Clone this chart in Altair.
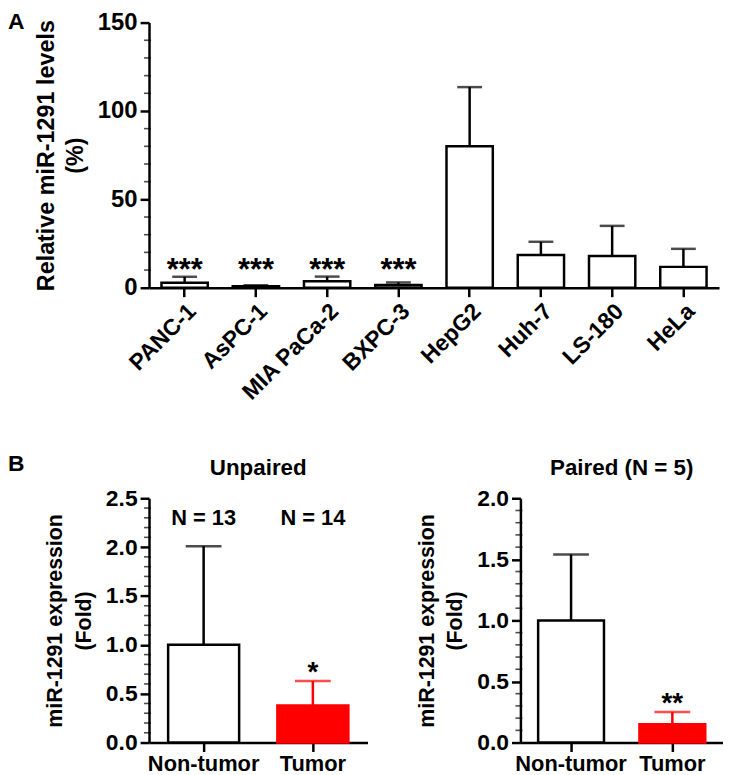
import altair as alt
import pandas as pd

FONT = "Liberation Sans"

# ---------------- Panel A data ----------------
cell_lines = ["PANC-1", "AsPC-1", "MIA PaCa-2", "BXPC-3", "HepG2", "Huh-7", "LS-180", "HeLa"]
cell_mean = [2.8, 0.8, 3.7, 1.5, 80.0, 18.5, 18.0, 11.8]
cell_upper = [6.2, 1.4, 6.3, 3.0, 113.5, 26.0, 35.0, 22.0]
cell_sig = ["***", "***", "***", "***", "", "", "", ""]
a_major = [0, 50, 100, 150]
a_minor = [10, 20, 30, 40, 60, 70, 80, 90, 110, 120, 130, 140]

# ---------------- Panel B data ----------------
groups = ["Non-tumor", "Tumor"]
unpaired_mean = [1.0, 0.38]
unpaired_upper = [2.01, 0.63]
unpaired_n = ["N = 13", "N = 14"]
unpaired_sig = ["", "*"]
paired_mean = [1.0, 0.15]
paired_upper = [1.54, 0.25]
paired_sig = ["", "**"]
b1_major = [0.0, 0.5, 1.0, 1.5, 2.0, 2.5]
b1_minor = [0.1, 0.2, 0.3, 0.4, 0.6, 0.7, 0.8, 0.9, 1.1, 1.2, 1.3, 1.4,
            1.6, 1.7, 1.8, 1.9, 2.1, 2.2, 2.3, 2.4]
b2_major = [0.0, 0.5, 1.0, 1.5, 2.0]
b2_minor = [0.1, 0.2, 0.3, 0.4, 0.6, 0.7, 0.8, 0.9, 1.1, 1.2, 1.3, 1.4,
            1.6, 1.7, 1.8, 1.9]

RED = "#ff0000"

df_a = pd.DataFrame({"cell": cell_lines, "mean": cell_mean, "upper": cell_upper, "sig": cell_sig})
df_b1 = pd.DataFrame({"group": groups, "mean": unpaired_mean, "upper": unpaired_upper,
                      "n": unpaired_n, "sig": unpaired_sig})
df_b2 = pd.DataFrame({"group": groups, "mean": paired_mean, "upper": paired_upper, "sig": paired_sig})


def major_axis(values, title, label_size, title_size, fmt=None):
    kw = dict(values=values, tickSize=9, tickWidth=2.5, labelFontSize=label_size,
              titleFontSize=title_size, title=title, titlePadding=10, titleLineHeight=29,
              labelPadding=3, labelOverlap=False, orient="left")
    if fmt:
        kw["format"] = fmt
    return alt.Axis(**kw)


def minor_ticks(values):
    # small axis ticks between the labelled ones, positioned through the y scale
    return alt.Chart(pd.DataFrame({"v": values})).mark_tick(
        color="black", orient="horizontal", size=7, thickness=1.6).encode(
        x=alt.value(-1.5), y=alt.Y("v:Q", axis=None))


# ---------------- Panel A ----------------
xa = alt.X("cell:N", sort=cell_lines, title=None,
           scale=alt.Scale(paddingInner=0.35, paddingOuter=0.175),
           axis=alt.Axis(labelAngle=-45, labelFontSize=23, tickSize=9, tickWidth=2.5, labelPadding=3))
xa_plain = alt.X("cell:N", sort=cell_lines)
ya_scale = alt.Scale(domain=[0, 150], nice=False)
base_a = alt.Chart(df_a)
bars_a = base_a.mark_bar(fill="white", stroke="black", strokeWidth=2.5).encode(
    x=xa,
    y=alt.Y("mean:Q", scale=ya_scale,
            axis=major_axis(a_major, ["Relative miR-1291 levels", "(%)"], 24, 23.5)),
)
err_a = base_a.mark_rule(color="black", strokeWidth=2.5).encode(
    x=xa_plain, y=alt.Y("mean:Q", axis=None), y2="upper:Q")
cap_a = base_a.mark_tick(color="black", thickness=2.5, size=25).encode(
    x=xa_plain, y=alt.Y("upper:Q", axis=None))
star_a = base_a.mark_text(font=FONT, fontWeight="bold", fontSize=31, baseline="alphabetic", dy=-8).encode(
    x=xa_plain, y=alt.YDatum(0, axis=None), text="sig:N")
letter_a = alt.Chart(pd.DataFrame({"t": ["A"]})).mark_text(
    font=FONT, fontWeight="bold", fontSize=23, align="left", baseline="top").encode(
    x=alt.value(-142), y=alt.value(-12), text="t:N")

panel_a = alt.layer(bars_a, err_a, cap_a, star_a, minor_ticks(a_minor), letter_a).resolve_axis(
    y="independent").properties(width=574, height=267)


# ---------------- Panel B ----------------
def panel_b(df, ymax, major, minor, title, width, height, with_letter=False, with_n=False):
    xb = alt.X("group:N", sort=groups, title=None,
               scale=alt.Scale(paddingInner=0.35, paddingOuter=0.175),
               axis=alt.Axis(labelAngle=0, labelFontSize=22, tickSize=9, tickWidth=2.5, labelPadding=2))
    xp = alt.X("group:N", sort=groups)
    ysc = alt.Scale(domain=[0, ymax], nice=False)
    base = alt.Chart(df)
    fill = alt.Fill("group:N", scale=alt.Scale(domain=groups, range=["white", RED]), legend=None)
    stroke = alt.Stroke("group:N", scale=alt.Scale(domain=groups, range=["black", RED]), legend=None)
    col = alt.Color("group:N", scale=alt.Scale(domain=groups, range=["black", RED]), legend=None)
    bars = base.mark_bar(strokeWidth=2.5).encode(
        x=xb,
        y=alt.Y("mean:Q", scale=ysc,
                axis=major_axis(major, ["miR-1291 expression", "(Fold)"], 23, 21.5, fmt=".1f")),
        fill=fill, stroke=stroke)
    err = base.mark_rule(strokeWidth=2.5).encode(
        x=xp, y=alt.Y("mean:Q", axis=None), y2="upper:Q", color=col)
    cap = base.mark_tick(thickness=2.5, size=36).encode(
        x=xp, y=alt.Y("upper:Q", axis=None), color=col)
    star = base.mark_text(font=FONT, fontWeight="bold", fontSize=28, baseline="alphabetic").encode(
        x=xp, y=alt.Y("upper:Q", axis=None), text="sig:N")
    ttl = alt.Chart(pd.DataFrame({"t": [title]})).mark_text(
        font=FONT, fontWeight="bold", fontSize=22.5, baseline="middle").encode(
        x=alt.value(width / 2), y=alt.value(-30), text="t:N")
    layers = [bars, err, cap, star, minor_ticks(minor), ttl]
    if with_n:
        layers.append(base.mark_text(font=FONT, fontWeight="bold", fontSize=22, baseline="middle").encode(
            x=xp, y=alt.YDatum(2.3, axis=None), text="n:N"))
    if with_letter:
        layers.append(alt.Chart(pd.DataFrame({"t": ["B"]})).mark_text(
            font=FONT, fontWeight="bold", fontSize=23, align="left", baseline="middle").encode(
            x=alt.value(-142), y=alt.value(-34), text="t:N"))
    return alt.layer(*layers).resolve_axis(y="independent").properties(width=width, height=height)


b1 = panel_b(df_b1, 2.5, b1_major, b1_minor, "Unpaired", 220, 246, with_letter=True, with_n=True)
b2 = panel_b(df_b2, 2.0, b2_major, b2_minor, "Paired (N = 5)", 204, 246)

chart = alt.vconcat(panel_a, alt.hconcat(b1, b2, spacing=49), spacing=49).properties(
    padding=0
).configure_view(stroke=None).configure_axis(
    domainColor="black", domainWidth=2.5, tickColor="black", labelColor="black",
    titleColor="black", labelFont=FONT, titleFont=FONT, labelFontWeight="bold",
    titleFontWeight="bold", grid=False
)

chart.save("out.html", embed_options={"renderer": "svg", "actions": False})
